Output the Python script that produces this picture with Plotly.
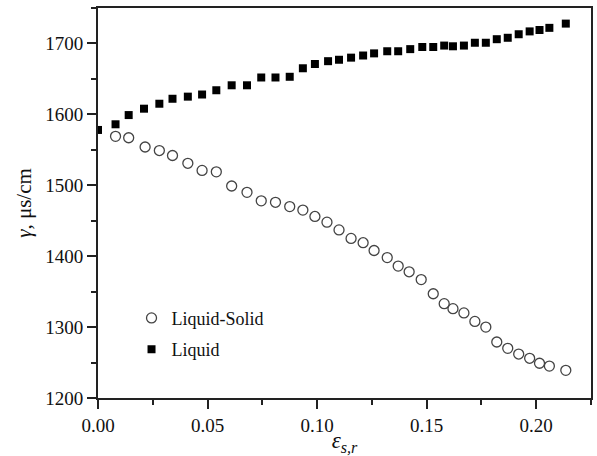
import plotly.graph_objects as go

# Liquid (filled squares)
liquid_x = [0.000, 0.008, 0.014, 0.021, 0.028, 0.034, 0.041, 0.0475, 0.054, 0.061,
            0.068, 0.0745, 0.081, 0.0875, 0.0935, 0.099, 0.105, 0.110, 0.1155, 0.121,
            0.126, 0.132, 0.137, 0.1425, 0.148, 0.153, 0.158, 0.162, 0.167, 0.172,
            0.177, 0.182, 0.187, 0.192, 0.197, 0.2015, 0.206, 0.2135]
liquid_y = [1578, 1586, 1599, 1608, 1615, 1622, 1625, 1628, 1634, 1641,
            1641, 1652, 1652, 1653, 1665, 1671, 1675, 1677, 1680, 1683,
            1686, 1689, 1689, 1692, 1695, 1695, 1697, 1696, 1697, 1701,
            1701, 1706, 1708, 1713, 1717, 1719, 1722, 1728]

# Liquid-Solid (open circles)
ls_x = [0.008, 0.014, 0.0215, 0.028, 0.034, 0.041, 0.0475, 0.054, 0.061, 0.068,
        0.0745, 0.081, 0.0875, 0.0935, 0.099, 0.1045, 0.110, 0.1155, 0.121, 0.126,
        0.132, 0.137, 0.142, 0.1475, 0.153, 0.158, 0.162, 0.167, 0.172, 0.177,
        0.182, 0.187, 0.192, 0.197, 0.2015, 0.206, 0.2135]
ls_y = [1569, 1567, 1554, 1549, 1542, 1531, 1521, 1519, 1499, 1490,
        1478, 1476, 1470, 1465, 1456, 1448, 1437, 1425, 1419, 1408,
        1398, 1386, 1378, 1367, 1347, 1333, 1326, 1320, 1308, 1300,
        1279, 1270, 1262, 1256, 1249, 1245, 1239]

x_range = [0, 0.225]
y_range = [1200, 1750]

FONT = "Liberation Serif, Times New Roman, serif"

fig = go.Figure()
fig.add_trace(go.Scatter(
    x=ls_x, y=ls_y, mode="markers", name="Liquid-Solid",
    legendgroup="a",
    marker=dict(symbol="circle-open", size=10, color="#444444",
                line=dict(width=1.3, color="#444444")),
))
fig.add_trace(go.Scatter(
    x=liquid_x, y=liquid_y, mode="markers", name="Liquid",
    legendgroup="b",
    marker=dict(symbol="square", size=8, color="#000000",
                line=dict(width=0)),
))

axis_common = dict(
    showgrid=False, zeroline=False, showline=True, mirror=True,
    linecolor="#222222", linewidth=2, automargin=False,
    ticks="outside", tickcolor="#222222", tickwidth=2, ticklen=9,
    tickfont=dict(family=FONT, size=19, color="#111111"),
)

fig.update_xaxes(
    range=x_range, tick0=0, dtick=0.05, tickformat=".2f",
    minor=dict(dtick=0.025, ticks="outside", ticklen=5, tickwidth=2, tickcolor="#222222"),
    title=dict(text="<i>ε</i><sub><i>s,r</i></sub>", font=dict(family=FONT, size=23, color="#111111"),
               standoff=6),
    **axis_common,
)
fig.update_yaxes(
    range=y_range, tick0=1200, dtick=100,
    minor=dict(dtick=50, ticks="outside", ticklen=5, tickwidth=2, tickcolor="#222222"),
    title=dict(text="<i>γ</i>, μs/cm", font=dict(family=FONT, size=21, color="#111111"),
               standoff=8),
    **axis_common,
)

fig.update_layout(
    width=597, height=456,
    margin=dict(l=98, r=6, t=8, b=58),
    plot_bgcolor="white", paper_bgcolor="white",
    font=dict(family=FONT, size=18, color="#111111"),
    legend=dict(
        x=0.068, y=0.252, xanchor="left", yanchor="top",
        bgcolor="rgba(0,0,0,0)", borderwidth=0,
        traceorder="grouped", tracegroupgap=5,
        font=dict(family=FONT, size=18, color="#111111"),
    ),
    showlegend=True,
)

fig.write_html("out.html", config={"displayModeBar": False},
               post_script="document.body.style.margin='0';document.body.style.padding='0';")
